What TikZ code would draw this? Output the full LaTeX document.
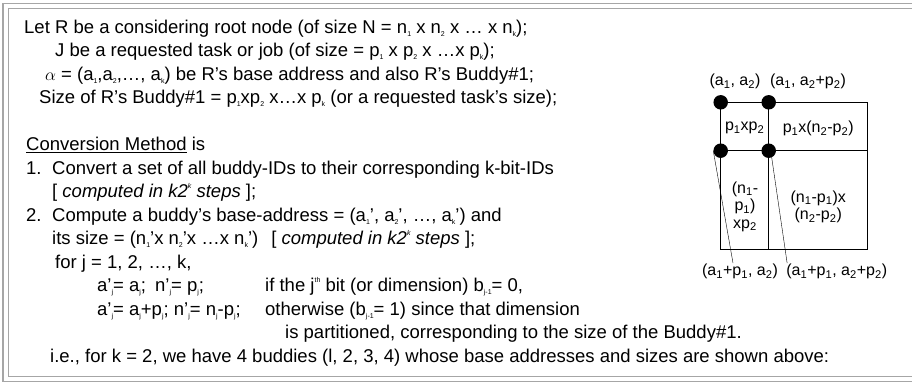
\documentclass[tikz,border=0pt]{standalone}
\usepackage{fontspec}
\setmainfont{Liberation Sans}
\usepackage{tikz}

\newcommand{\subsm}[1]{\raisebox{-0.35ex}{\fontsize{7}{7}\selectfont #1}}
\newcommand{\supsm}[1]{\raisebox{0.95ex}{\fontsize{7}{7}\selectfont #1}}
\newcommand{\diafont}{\fontsize{16}{17.5}\selectfont}

\begin{document}
\begin{tikzpicture}[x=1pt, y=-1pt,
    txt/.style={anchor=base west, inner sep=0pt, font=\fontsize{18.5}{22}\selectfont},
    lbl/.style={font=\diafont, inner sep=1pt, align=center},
    dot/.style={circle, fill=black, inner sep=0pt, minimum size=14.5pt},
    frameline/.style={draw=gray!70, line width=1.8pt}]
    \useasboundingbox (0,0) rectangle (912,384);
    \clip (0,0) rectangle (912,384);

    % Double frame (runs off on the right)
    \draw[frameline] (3,3.5) rectangle (940,381.5);
    \draw[frameline, line width=1.4pt] (8.5,8.5) rectangle (935,376.5);

    % Definitions
    \node[txt] (r0) at (24,33) {Let R be a considering root node (of size N = n\subsm{1} x n\subsm{2} x … x n\subsm{k});};
    \node[txt] (r1) at (55,56.5) {J be a requested task or job (of size = p\subsm{1} x p\subsm{2} x …x p\subsm{k});};
    \node[txt] (r2) at (45,80) {$\alpha$ = (a\subsm{1},a\subsm{2},…, a\subsm{k}) be R's base address and also R's Buddy\#1;};
    \node[txt] (r3) at (39,103.5) {Size of R's Buddy\#1 = p\subsm{1}xp\subsm{2} x…x p\subsm{k} (or a requested task's size);};

    % Conversion method
    \node[txt] (r5) at (26,150.5) {\underline{Conversion Method} is};
    \node[txt] (r6) at (26,174) {\makebox[26pt][l]{1.}Convert a set of all buddy-IDs to their corresponding k-bit-IDs};
    \node[txt] (r7) at (52,197.5) {[ \textit{computed in k2\supsm{k} steps} ];};
    \node[txt] (r8) at (26,221) {\makebox[26pt][l]{2.}Compute a buddy's base-address = (a\subsm{1}', a\subsm{2}', …, a\subsm{k}') and};
    \node[txt] (r9) at (52,244.5) {its size = (n\subsm{1}'x n\subsm{2}'x …x n\subsm{k}')\hspace{13pt}[ \textit{computed in k2\supsm{k} steps} ];};
    \node[txt] (r10) at (55,268) {for j = 1, 2, …, k,};
    \node[txt] (r11a) at (97,291.5) {a'\subsm{j}= a\subsm{j};};
    \node[txt] (r11b) at (155,291.5) {n'\subsm{j}= p\subsm{j};};
    \node[txt] (r11c) at (265,291.5) {if the j\supsm{th} bit (or dimension) b\subsm{j-1}= 0,};
    \node[txt] (r12a) at (97,315) {a'\subsm{j}= a\subsm{j}+p\subsm{j}; n'\subsm{j}= n\subsm{j}-p\subsm{j};};
    \node[txt] (r12b) at (265,315) {otherwise (b\subsm{j-1}= 1) since that dimension};
    \node[txt] (r13) at (285,338.5) {is partitioned, corresponding to the size of the Buddy\#1.};
    \node[txt] (r14) at (50,362) {i.e., for k = 2, we have 4 buddies (l, 2, 3, 4) whose base addresses and sizes are shown above:};

    % Buddy grid for k = 2
    \draw[line width=0.9pt] (720.7,102.3) rectangle (867.7,249);
    \draw[line width=0.9pt] (768.7,102.3) -- (768.7,249);
    \draw[line width=0.9pt] (720.7,150.7) -- (867.7,150.7);
    \node[lbl] (c1) at (744.7,128.3) {p\textsubscript{1}xp\textsubscript{2}};
    \node[lbl] (c2) at (818.2,128.3) {p\textsubscript{1}x(n\textsubscript{2}-p\textsubscript{2})};
    \node[lbl] (c3) at (745,206.7) {(n\textsubscript{1}-\\p\textsubscript{1})\\xp\textsubscript{2}};
    \node[lbl] (c4) at (818.2,207) {(n\textsubscript{1}-p\textsubscript{1})x\\(n\textsubscript{2}-p\textsubscript{2})};

    % Base addresses
    \node[dot] (d1) at (720.7,102.3) {};
    \node[dot] (d2) at (768.7,102.3) {};
    \node[dot] (d3) at (720.7,150.7) {};
    \node[dot] (d4) at (768.7,150.7) {};
    \node[lbl] (l1) at (735,81.7) {(a\textsubscript{1}, a\textsubscript{2})};
    \node[lbl] (l2) at (808,81.7) {(a\textsubscript{1}, a\textsubscript{2}+p\textsubscript{2})};
    \node[lbl] (l3) at (740,271.7) {(a\textsubscript{1}+p\textsubscript{1}, a\textsubscript{2})};
    \node[lbl] (l4) at (836.7,271.7) {(a\textsubscript{1}+p\textsubscript{1}, a\textsubscript{2}+p\textsubscript{2})};
    \draw (d3.west) -- ([xshift=-7pt]l3.north);
    \draw ([xshift=2pt]d4.center) -- ([xshift=2pt]l4.north west);
\end{tikzpicture}
\end{document}
